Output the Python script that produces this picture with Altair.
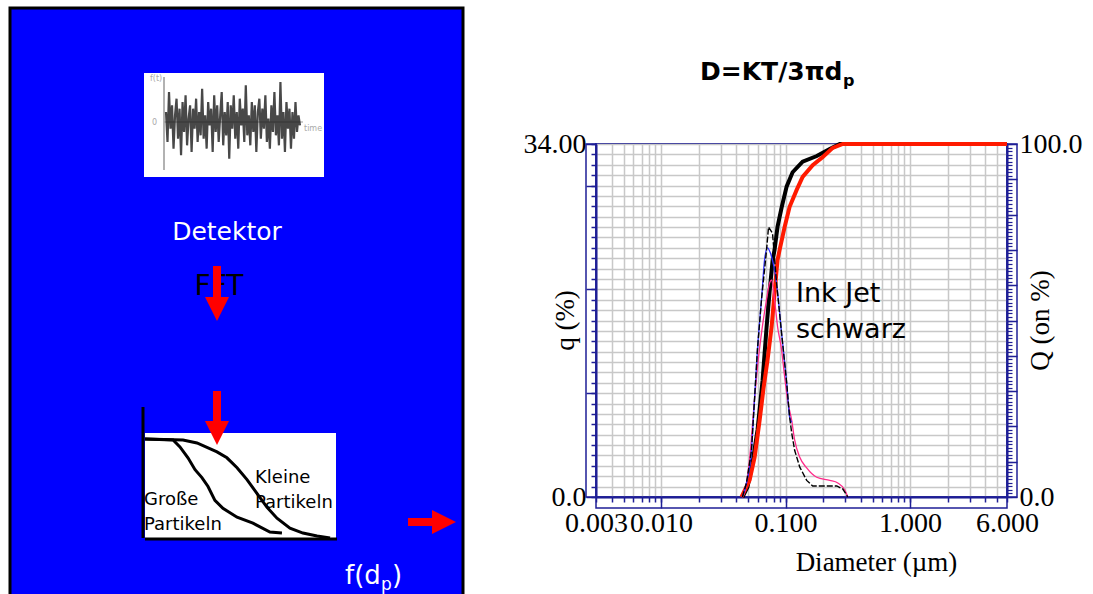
import altair as alt
import pandas as pd

# ---------------- main chart data (Diameter in µm) ----------------
qk_d = [0.045, 0.0485, 0.0532, 0.0562, 0.0594, 0.064, 0.0703, 0.0729, 0.0785, 0.0846, 0.0928,
        0.102, 0.1077, 0.1118, 0.1182, 0.1297, 0.1477, 0.1651, 0.188, 0.2578, 0.2883, 0.3162]
qk_v = [0, 1.35, 4.5, 9.3, 14.2, 19.0, 23.8, 26.0, 25.4, 20.6, 15.8,
        11.0, 7.7, 6.2, 4.5, 2.9, 1.6, 1.06, 1.06, 1.06, 0.77, 0]

qb_d = [0.045, 0.0485, 0.0532, 0.0562, 0.0594, 0.064, 0.068, 0.0715, 0.0755, 0.0846, 0.0928,
        0.102, 0.1077, 0.112]
qb_v = [0, 1.35, 4.5, 9.3, 14.2, 19.0, 23.0, 24.0, 23.5, 20.6, 15.8, 11.0, 7.7, 7.2]

qp_d = [0.0445, 0.0467, 0.05125, 0.05623, 0.05944, 0.06404, 0.07026, 0.0743, 0.0771, 0.0815,
        0.0862, 0.0928, 0.0982, 0.1038, 0.1118, 0.1182, 0.1297, 0.1477, 0.1778, 0.2264,
        0.2626, 0.299, 0.3162]
qp_v = [0, 0.39, 3.56, 9.34, 12.5, 15.8, 19.0, 20.6, 20.9, 19.0,
        16.4, 14.2, 11.6, 9.3, 7.4, 5.5, 3.85, 2.8, 1.9, 1.6,
        1.35, 0.67, 0]

Qk_d = [0.045, 0.0494, 0.0542, 0.0595, 0.0653, 0.0703, 0.0743, 0.0786, 0.0815, 0.0861,
        0.0929, 0.102, 0.1138, 0.137, 0.178, 0.226, 0.272, 6]
Qk_v = [0, 2.8, 9.6, 19, 33, 48, 58, 67, 70, 76.5, 82, 88, 92, 95, 96.6, 98.6, 100, 100]

Qr_d = [0.0442, 0.0514, 0.0564, 0.0619, 0.0665, 0.0716, 0.0772, 0.0815, 0.0861, 0.0895,
        0.0982, 0.1077, 0.1227, 0.137, 0.165, 0.199, 0.239, 0.288, 6]
Qr_v = [0, 4.8, 11.3, 21.8, 30.9, 38.8, 48.2, 57.8, 67.1, 70,
        76.5, 82.2, 87, 90.7, 94, 96.3, 98.9, 100, 100]

x_ticks = [0.003, 0.004, 0.005, 0.006, 0.007, 0.008, 0.009,
           0.01, 0.02, 0.03, 0.04, 0.05, 0.06, 0.07, 0.08, 0.09,
           0.1, 0.2, 0.3, 0.4, 0.5, 0.6, 0.7, 0.8, 0.9,
           1, 2, 3, 4, 5, 6]
x_major = [0.01, 0.1, 1]
q_ticks = list(range(0, 35))
q_major = [0, 10, 20, 30, 34]
Q_ticks = list(range(0, 101))
Q_major = list(range(0, 101, 10))

# ---------------- left panel data ----------------
noise = [0.3, -0.6, 0.9, -0.2, 0.5, -0.8, 0.2, 0.7, -0.5, 0.4, -1.0, 0.6, -0.3, 0.8, -0.7, 0.1,
         0.5, -0.9, 0.4, -0.2, 0.7, -0.6, 0.3, -0.4, 1.0, -0.5, 0.2, -0.8, 0.6, -0.1, 0.4, -0.9,
         0.8, -0.3, 0.5, -0.6, 0.2, 0.9, -0.7, 0.3, -0.4, 0.6, -1.1, 0.5, -0.2, 0.8, -0.5, 0.3,
         -0.8, 0.7, -0.1, 0.4, -0.6, 1.1, -0.4, 0.2, -0.7, 0.6, -0.3, 0.5, -0.9, 0.3, 0.7, -0.5,
         0.4, -0.2, 0.8, -0.6, 0.1, -0.8, 0.5, -0.3, 0.9, -0.4, 0.2, -0.7, 1.2, -0.5, 0.3, -0.9,
         0.6, -0.2, 0.4, -0.8, 0.3, -0.5, 0.6, -0.3, 0.2, -0.1]
gross_x = [0, 14.7, 18.3, 22.5, 26.2, 29.8, 33.0, 36.6, 40.8, 48.2, 56.5, 65.4, 71.7]
gross_y = [100, 99, 92, 81, 69, 61, 52, 38, 30, 21, 15, 6, 5]
klein_x = [0, 19.9, 27.2, 37.7, 42.9, 48.2, 53.4, 58.6, 63.9, 69.1, 75.9, 82.7, 90.1, 96.9]
klein_y = [100, 99, 96, 87, 81, 71, 59, 45, 31, 20, 10, 5, 2, 0]

# ---------------- layout constants ----------------
W, H = 411, 353
OX, OY = 596, 144
NAVY = '#1f1f96'
GRID = '#c8c8c8'
SERIF = 'Liberation Serif'
SANS = 'DejaVu Sans'

ONE = pd.DataFrame({'k': [0]})

XS = alt.Scale(type='log', domain=[0.003, 6], nice=False)
YQ = alt.Scale(domain=[0, 34], nice=False)
YC = alt.Scale(domain=[0, 100], nice=False)


def rect(x1, x2, y1, y2, **mk):
    return alt.Chart(ONE).mark_rect(**mk).encode(
        x=alt.value(x1 - OX), x2=alt.value(x2 - OX),
        y=alt.value(y1 - OY), y2=alt.value(y2 - OY))


def rule(x1, x2, y1, y2, **mk):
    return alt.Chart(ONE).mark_rule(**mk).encode(
        x=alt.value(x1 - OX), x2=alt.value(x2 - OX),
        y=alt.value(y1 - OY), y2=alt.value(y2 - OY))


def text(s, x, y, **mk):
    return alt.Chart(ONE).mark_text(text=s, **mk).encode(
        x=alt.value(x - OX), y=alt.value(y - OY))


def sym(shape, x, y, size, color):
    return alt.Chart(ONE).mark_point(shape=shape, size=size, filled=True, color=color,
                                     opacity=1, strokeWidth=0).encode(
        x=alt.value(x - OX), y=alt.value(y - OY))


def curve(d, v, yscale, color, width, xaxis=None, yaxis=None, dash=None, interp='linear'):
    df = pd.DataFrame({'d': d, 'v': v})
    mk = dict(color=color, strokeWidth=width, interpolate=interp)
    if dash:
        mk['strokeDash'] = dash
    return alt.Chart(df).mark_line(**mk).encode(
        x=alt.X('d:Q', scale=XS, axis=xaxis),
        y=alt.Y('v:Q', scale=yscale, axis=yaxis))


# ---------------- axes ----------------
x_lab = ("datum.value == 0.003 || datum.value == 0.01 || datum.value == 0.1 || "
         "datum.value == 1 || datum.value == 6 ? format(datum.value, '.3f') : ''")
ax_x_minor = alt.Axis(values=x_ticks, orient='bottom', grid=True, gridColor=GRID, gridWidth=1.5,
                      tickSize=5, tickColor=NAVY, tickWidth=1.5, domainColor=NAVY, domainWidth=2,
                      labelExpr=x_lab, labelFont=SERIF, labelFontSize=28, labelColor='black',
                      labelPadding=7, labelOverlap=False, labelFlush=False,
                      title='Diameter (µm)', titleFont=SERIF, titleFontSize=27,
                      titleFontWeight='normal', titleColor='black', titleX=280, titleY=65,
                      titleAlign='center', titleBaseline='middle')
ax_x_major = alt.Axis(values=x_major, orient='bottom', grid=False, tickSize=11, tickColor=NAVY,
                      tickWidth=1.5, domain=False, labels=False, title='')

ax_q_minor = alt.Axis(values=q_ticks, orient='left', grid=True, gridColor=GRID, gridWidth=1.5,
                      tickSize=5, tickColor=NAVY, tickWidth=1.5, domainColor=NAVY, domainWidth=2,
                      labelExpr="datum.value == 0 ? '0.0' : datum.value == 34 ? '34.00' : ''",
                      labelFont=SERIF, labelFontSize=28, labelColor='black', labelPadding=5,
                      labelOverlap=False, labelFlush=False,
                      title='q (%)', titleFont=SERIF, titleFontSize=27, titleFontWeight='normal',
                      titleColor='black', titleX=-31, titleY=176, titleAngle=270,
                      titleAlign='center', titleBaseline='middle')
ax_q_major = alt.Axis(values=q_major, orient='left', grid=False, tickSize=10, tickColor=NAVY,
                      tickWidth=1.5, domain=False, labels=False, title='')

ax_Q_minor = alt.Axis(values=Q_ticks, orient='right', grid=False,
                      tickSize=5, tickColor=NAVY, tickWidth=1.2, domainColor=NAVY, domainWidth=2,
                      labelExpr="datum.value == 0 ? '0.0' : datum.value == 100 ? '100.0' : ''",
                      labelFont=SERIF, labelFontSize=28, labelColor='black', labelPadding=7,
                      labelOverlap=False, labelFlush=False,
                      title='Q (on %)', titleFont=SERIF, titleFontSize=27, titleFontWeight='normal',
                      titleColor='black', titleX=33, titleY=176, titleAngle=270,
                      titleAlign='center', titleBaseline='middle')
ax_Q_major = alt.Axis(values=Q_major, orient='right', grid=False, tickSize=10, tickColor=NAVY,
                      tickWidth=1.5, domain=False, labels=False, title='')

# ---------------- left panel ----------------
layers = []
layers.append(rect(10, 463, 8, 610, fill='#0000ff', stroke='black', strokeWidth=3))
layers.append(rect(144, 324, 73, 177, fill='white'))
layers.append(rule(164, 164, 77, 170, color='#999999', strokeWidth=1.5))
layers.append(rule(164, 303, 122, 122, color='#999999', strokeWidth=1))
noise_df = pd.DataFrame({'i': list(range(len(noise))), 'v': noise})
layers.append(alt.Chart(noise_df).mark_line(color='#1a1a1a', strokeWidth=2.2, opacity=0.8).encode(
    x=alt.X('i:Q', scale=alt.Scale(domain=[0, len(noise) - 1], range=[166 - OX, 300 - OX], nice=False), axis=None),
    y=alt.Y('v:Q', scale=alt.Scale(domain=[-1.2, 1.2], range=[162 - OY, 82 - OY], nice=False, zero=False), axis=None)))
layers.append(text('f(t)', 150, 79, font=SANS, fontSize=8, color='#aaaaaa', align='left', baseline='middle'))
layers.append(text('0', 152, 123, font=SANS, fontSize=8, color='#aaaaaa', align='left', baseline='middle'))
layers.append(text('time', 304, 129, font=SANS, fontSize=8, color='#aaaaaa', align='left', baseline='middle'))

layers.append(text('Detektor', 227, 232, font=SANS, fontSize=25, color='white', align='center', baseline='middle'))
layers.append(text('FFT', 219, 287, font=SANS, fontSize=28, color='black', align='center', baseline='middle'))

# inset
layers.append(rect(145, 336, 433, 540, fill='white'))
inset_xs = alt.Scale(domain=[0, 100], range=[145 - OX, 336 - OX], nice=False)
inset_ys = alt.Scale(domain=[0, 100], range=[538 - OY, 439 - OY], nice=False)
for xs_, ys_ in [(gross_x, gross_y), (klein_x, klein_y)]:
    df = pd.DataFrame({'a': xs_, 'b': ys_})
    layers.append(alt.Chart(df).mark_line(color='black', strokeWidth=3).encode(
        x=alt.X('a:Q', scale=inset_xs, axis=None),
        y=alt.Y('b:Q', scale=inset_ys, axis=None)))
layers.append(rule(143, 143, 407, 538, color='black', strokeWidth=3))
layers.append(rule(145, 337, 539, 539, color='black', strokeWidth=3))
layers.append(text('Große', 144, 500, font=SANS, fontSize=18, color='black', align='left', baseline='middle'))
layers.append(text('Partikeln', 144, 525, font=SANS, fontSize=18, color='black', align='left', baseline='middle'))
layers.append(text('Kleine', 255, 478, font=SANS, fontSize=18, color='black', align='left', baseline='middle'))
layers.append(text('Partikeln', 255, 503, font=SANS, fontSize=18, color='black', align='left', baseline='middle'))

# arrows
RED = '#ff0000'
DOWN = 'M-1,-1L1,-1L0,1Z'
RIGHT = 'M-1,-1L1,0L-1,1Z'
layers.append(rect(213, 221, 266, 298, fill=RED))
layers.append(sym(DOWN, 217, 309, 576, RED))
layers.append(rect(213, 221, 391, 422, fill=RED))
layers.append(sym(DOWN, 217, 433, 576, RED))
layers.append(rect(408, 433, 518, 526, fill=RED))
layers.append(sym(RIGHT, 444, 522, 576, RED))

layers.append(text('f(d', 345, 584, font=SANS, fontSize=26, color='white', align='left', baseline='alphabetic'))
layers.append(text('p', 381, 590, font=SANS, fontSize=17, color='white', align='left', baseline='alphabetic'))
layers.append(text(')', 392, 584, font=SANS, fontSize=26, color='white', align='left', baseline='alphabetic'))

# ---------------- main chart ----------------
layers.append(text('D=KT/3πd', 700, 80, font=SANS, fontSize=25, fontWeight='bold', color='black',
                   align='left', baseline='alphabetic'))
layers.append(text('p', 843, 86, font=SANS, fontSize=16, fontWeight='bold', color='black',
                   align='left', baseline='alphabetic'))

layers.append(rect(586, 596, 144, 497, fill='transparent', stroke=NAVY, strokeWidth=1.5))
layers.append(rect(1007, 1017, 144, 497, fill='transparent', stroke=NAVY, strokeWidth=1.5))
layers.append(rect(596, 1007, 497, 508, fill='transparent', stroke=NAVY, strokeWidth=1.5))

layers.append(curve(Qk_d, Qk_v, YC, 'black', 4, yaxis=ax_Q_minor))
layers.append(curve(Qr_d, Qr_v, YC, '#ff1a00', 4, yaxis=ax_Q_major))
layers.append(curve(qp_d, qp_v, YQ, '#ff2a8a', 1.3, interp='monotone'))
layers.append(curve(qb_d, qb_v, YQ, '#3030ff', 1.3, xaxis=ax_x_major, yaxis=ax_q_major, interp='monotone'))
layers.append(curve(qk_d, qk_v, YQ, 'black', 1.4, xaxis=ax_x_minor, yaxis=ax_q_minor, dash=[6, 2]))

layers.append(text('Ink Jet', 796, 302, font=SANS, fontSize=27, color='black', align='left', baseline='alphabetic'))
layers.append(text('schwarz', 796, 338, font=SANS, fontSize=27, color='black', align='left', baseline='alphabetic'))

chart = alt.layer(*layers).resolve_scale(x='independent', y='independent').properties(
    width=W, height=H,
    autosize=alt.AutoSizeParams(type='none'),
    padding={'left': OX, 'top': OY, 'right': 1093 - OX - W, 'bottom': 594 - OY - H},
    background='white',
).configure_view(stroke=NAVY, strokeWidth=2)

chart.save("out.html", embed_options={"renderer": "svg", "actions": False})
